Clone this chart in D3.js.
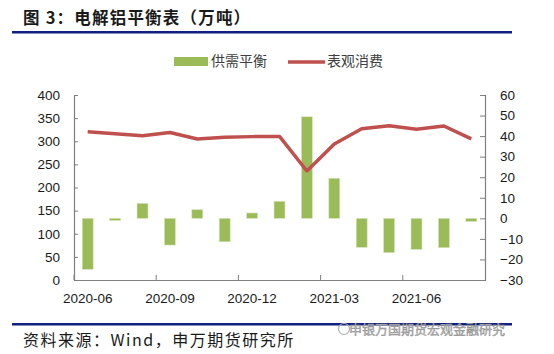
<!DOCTYPE html>
<html>
<head>
<meta charset="utf-8">
<script src="https://cdn.jsdelivr.net/npm/d3@7"></script>
<style>
  body { margin: 0; background: #fff; }
  svg { display: block; }
  text { font-family: "Liberation Sans", "Noto Sans", sans-serif; }
  .cjk { font-family: "Noto Sans CJK SC", sans-serif; }
</style>
</head>
<body>
<div id="chart"></div>
<script>
let width = 554, height = 354;
let margin = ({top: 95, right: 69, bottom: 74, left: 74});

// months on the x axis
let months = ["2020-06","2020-07","2020-08","2020-09","2020-10","2020-11","2020-12",
              "2021-01","2021-02","2021-03","2021-04","2021-05","2021-06","2021-07","2021-08"];
// 供需平衡 (right axis, bars)
let balance = [-24.8, -1, 7.3, -13, 4.2, -11.4, 2.6, 8.3, 49.4, 19.5, -14.1, -16.7, -15.1, -14.3, -1.5];
// 表观消费 (left axis, line)
let consumption = [320.6, 316, 312, 319, 305, 308.5, 310, 310.5, 235.7, 294, 327, 333.7, 325.8, 333, 305];

let leftTicks = [0, 50, 100, 150, 200, 250, 300, 350, 400];
let rightTicks = [-30, -20, -10, 0, 10, 20, 30, 40, 50, 60];
let labelMonths = ["2020-06","2020-09","2020-12","2021-03","2021-06"];

let svg = d3.select("#chart").append("svg")
    .attr("width", width).attr("height", height);

let x = d3.scaleBand()
    .domain(months)
    .range([margin.left, width - margin.right])
    .padding(0);

let yL = d3.scaleLinear().domain([0, 400]).range([height - margin.bottom, margin.top]);
let yR = d3.scaleLinear().domain([-30, 60]).range([height - margin.bottom, margin.top]);

// title + rules
svg.append("text").attr("class", "cjk")
    .attr("x", 23).attr("y", 24)
    .attr("font-size", 16.5).attr("font-weight", 600)
    .attr("fill", "#1a1a1a")
    .style("letter-spacing", "1.2px")
    .text("图 3：电解铝平衡表（万吨）");
svg.append("rect").attr("x", 12).attr("y", 31).attr("width", 500).attr("height", 2.5).attr("fill", "#101f80");
svg.append("rect").attr("x", 12).attr("y", 323).attr("width", 500).attr("height", 2.5).attr("fill", "#101f80");

svg.append("text").attr("class", "cjk")
    .attr("x", 23).attr("y", 346)
    .attr("font-size", 16).attr("fill", "#1a1a1a")
    .style("letter-spacing", "1.5px")
    .text("资料来源：Wind，申万期货研究所");

// watermark
svg.append("text").attr("class", "cjk")
    .attr("x", 505).attr("y", 334)
    .attr("text-anchor", "end")
    .attr("font-size", 13).attr("fill", "#b5b5b5")
    .attr("stroke", "#8a8a8a").attr("stroke-width", 0.4)
    .text("申银万国期货宏观金融研究");
svg.append("circle").attr("cx", 344).attr("cy", 329).attr("r", 5.5)
    .attr("fill", "none").attr("stroke", "#b0b0b0").attr("stroke-width", 1.2);

// bars
let bw = x.bandwidth() * 0.4;
svg.append("g")
    .selectAll("rect")
    .data(months)
    .join("rect")
    .attr("x", d => x(d) + (x.bandwidth() - bw) / 2)
    .attr("y", (d, i) => Math.min(yR(balance[i]), yR(0)))
    .attr("width", bw)
    .attr("height", (d, i) => Math.abs(yR(balance[i]) - yR(0)))
    .attr("fill", "#9bbb59")
    .attr("stroke", "#d7e4bd")
    .attr("stroke-width", 0.6);

// line
let line = d3.line()
    .x((d, i) => x(months[i]) + x.bandwidth() / 2)
    .y(d => yL(d));
svg.append("path")
    .datum(consumption)
    .attr("d", line)
    .attr("fill", "none")
    .attr("stroke", "#c0504d")
    .attr("stroke-width", 3.5)
    .attr("stroke-linejoin", "round");

// axes
let axisColor = "#7f7f7f";
let leftAxis = svg.append("g")
    .attr("transform", `translate(${margin.left},0)`)
    .call(d3.axisRight(yL).tickValues(leftTicks).tickSize(4).tickFormat(d3.format("d")));
leftAxis.selectAll("text").attr("x", -14).attr("text-anchor", "end");

let rightAxis = svg.append("g")
    .attr("transform", `translate(${width - margin.right},0)`)
    .call(d3.axisLeft(yR).tickValues(rightTicks).tickSize(5).tickFormat(d3.format("d")));
rightAxis.selectAll("text").attr("x", 15).attr("text-anchor", "start");

let xAxis = svg.append("g")
    .attr("transform", `translate(0,${height - margin.bottom})`)
    .call(d3.axisTop(x).tickValues(labelMonths).tickSize(5).tickSizeOuter(0));
xAxis.selectAll(".tick line")
    .attr("transform", `translate(${-x.bandwidth() / 2},0)`);
xAxis.selectAll(".tick text").attr("y", 19).attr("dy", 0).attr("dominant-baseline", "middle");

[leftAxis, rightAxis, xAxis].forEach(g => {
    g.select(".domain").attr("stroke", axisColor).attr("stroke-width", 1.2);
    g.selectAll(".tick line").attr("stroke", axisColor);
    g.selectAll("text").attr("font-size", 13.5).attr("fill", "#1a1a1a")
        .attr("font-family", "'Liberation Sans', sans-serif");
});

// legend
let legend = svg.append("g");
legend.append("rect").attr("x", 174).attr("y", 57).attr("width", 34).attr("height", 9).attr("fill", "#9bbb59");
legend.append("text").attr("class", "cjk").attr("x", 211).attr("y", 62)
    .attr("dominant-baseline", "middle").attr("font-size", 14).attr("fill", "#404040")
    .text("供需平衡");
legend.append("line").attr("x1", 288).attr("x2", 325).attr("y1", 62).attr("y2", 62)
    .attr("stroke", "#c0504d").attr("stroke-width", 3.5);
legend.append("text").attr("class", "cjk").attr("x", 327).attr("y", 62)
    .attr("dominant-baseline", "middle").attr("font-size", 14).attr("fill", "#404040")
    .text("表观消费");
</script>
</body>
</html>
